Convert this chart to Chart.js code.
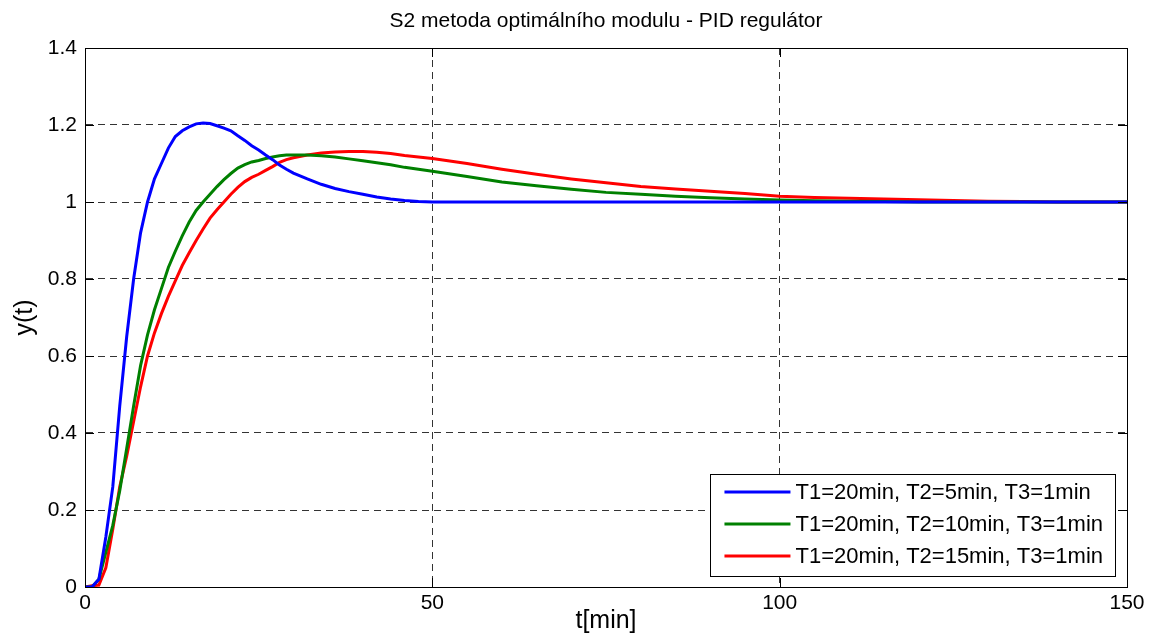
<!DOCTYPE html>
<html>
<head>
<meta charset="utf-8">
<script src="https://cdn.jsdelivr.net/npm/chart.js@4.4.1/dist/chart.umd.min.js"></script>
<style>
  html, body { margin: 0; padding: 0; background: #fff; }
  canvas { display: block; }
</style>
</head>
<body>
<canvas id="odezva" width="1151" height="636"></canvas>
<script>
// --- DATA ---
const casMin = [0, 1, 2, 3, 4, 5, 6, 7, 8, 9, 10, 11, 12, 13, 14, 15, 16, 17, 18, 19, 20,
  21, 22, 23, 24, 25, 26, 27, 28, 29, 30, 32, 34, 36, 38, 40, 42, 44, 46, 48, 50,
  55, 60, 65, 70, 75, 80, 85, 90, 95, 100, 105, 110, 115, 120, 125, 130, 135, 140, 145, 150];

const yT2_5 = [0, 0, 0.02, 0.13, 0.26, 0.47, 0.65, 0.8, 0.92, 1.0, 1.06, 1.1, 1.14, 1.17, 1.185, 1.195, 1.203, 1.205, 1.204, 1.198, 1.192,
  1.185, 1.172, 1.16, 1.146, 1.135, 1.122, 1.11, 1.096, 1.085, 1.075, 1.06, 1.046, 1.035, 1.027, 1.02, 1.013, 1.008, 1.004, 1.001, 1.0,
  1, 1, 1, 1, 1, 1, 1, 1, 1, 1, 1, 1, 1, 1, 1, 1, 1, 1, 1, 1];

const yT2_10 = [0, 0, 0.02, 0.09, 0.16, 0.25, 0.36, 0.47, 0.575, 0.655, 0.72, 0.775, 0.83, 0.872, 0.912, 0.948, 0.978, 1.0, 1.02, 1.04, 1.058,
  1.074, 1.088, 1.097, 1.104, 1.108, 1.113, 1.117, 1.12, 1.122, 1.122, 1.122, 1.12, 1.117, 1.112, 1.107, 1.102, 1.097, 1.09, 1.085, 1.08,
  1.066, 1.052, 1.042, 1.033, 1.025, 1.02, 1.015, 1.011, 1.008, 1.005, 1.003, 1.002, 1.001, 1.0, 1.0, 1.0, 1.0, 1.0, 1.0, 1.0];

const yT2_15 = [0, 0.003, 0.005, 0.05, 0.15, 0.26, 0.34, 0.43, 0.52, 0.6, 0.66, 0.71, 0.755, 0.795, 0.835, 0.868, 0.9, 0.93, 0.958, 0.98, 1.0,
  1.02, 1.038, 1.053, 1.064, 1.072, 1.082, 1.092, 1.103, 1.11, 1.115, 1.122, 1.127, 1.13, 1.131, 1.131, 1.129, 1.126, 1.121, 1.117, 1.113,
  1.1, 1.085, 1.072, 1.06, 1.05, 1.04, 1.034, 1.028, 1.022, 1.015, 1.012, 1.01, 1.008, 1.006, 1.004, 1.002, 1.001, 1.0, 1.0, 1.0];

const popisky = ['T1=20min, T2=5min, T3=1min', 'T1=20min, T2=10min, T3=1min', 'T1=20min, T2=15min, T3=1min'];
const barvy = ['#0000ff', '#008000', '#ff0000'];
const nadpis = 'S2 metoda optimálního modulu - PID regulátor';
const xTicks = [0, 50, 100, 150];
const yTicks = [0, 0.2, 0.4, 0.6, 0.8, 1, 1.2, 1.4];

const FONT = '"Liberation Sans", Arial, sans-serif';

function body(ys) {
  return casMin.map((t, i) => ({ x: t, y: ys[i] }));
}

// nadpis centrovany nad osami (jako v MATLABu)
const nadpisOs = {
  id: 'nadpisOs',
  afterDraw(chart) {
    const { ctx, chartArea: a } = chart;
    ctx.save();
    ctx.font = '21px ' + FONT;
    ctx.fillStyle = '#000';
    ctx.textAlign = 'center';
    ctx.textBaseline = 'middle';
    ctx.fillText(nadpis, (a.left + a.right) / 2, a.top - 27);
    ctx.restore();
  }
};

// ramecek kolem os + tick znacky dovnitr
const ramecek = {
  id: 'ramecek',
  afterDraw(chart) {
    const { ctx, chartArea: a, scales } = chart;
    ctx.save();
    ctx.strokeStyle = '#000';
    ctx.lineWidth = 1;
    ctx.setLineDash([]);
    ctx.strokeRect(a.left + 0.5, a.top + 0.5, a.right - a.left, a.bottom - a.top);
    const delka = 9;
    ctx.beginPath();
    xTicks.forEach(v => {
      const px = Math.round(scales.x.getPixelForValue(v)) + 0.5;
      ctx.moveTo(px, a.bottom); ctx.lineTo(px, a.bottom - delka);
      ctx.moveTo(px, a.top); ctx.lineTo(px, a.top + delka);
    });
    yTicks.forEach(v => {
      const py = Math.round(scales.y.getPixelForValue(v)) + 0.5;
      ctx.moveTo(a.left, py); ctx.lineTo(a.left + delka, py);
      ctx.moveTo(a.right, py); ctx.lineTo(a.right - delka, py);
    });
    ctx.stroke();
    ctx.restore();
  }
};

// legenda uvnitr grafu, vpravo dole
const legendaUvnitr = {
  id: 'legendaUvnitr',
  afterDraw(chart) {
    const { ctx, chartArea: a } = chart;
    const ds = chart.data.datasets;
    ctx.save();
    ctx.font = '22px ' + FONT;
    const maxW = Math.max(...ds.map(d => ctx.measureText(d.label).width));
    const radek = 32;
    const w = 14 + 66 + 5 + maxW + 12;
    const h = ds.length * radek + 6;
    const x0 = a.right - 12 - w;
    const y0 = a.bottom - 11 - h;
    ctx.fillStyle = '#fff';
    ctx.fillRect(x0, y0, w, h);
    ctx.strokeStyle = '#000';
    ctx.lineWidth = 1;
    ctx.strokeRect(Math.round(x0) + 0.5, Math.round(y0) + 0.5, Math.round(w), Math.round(h));
    ds.forEach((d, i) => {
      const cy = y0 + 18 + i * radek;
      ctx.strokeStyle = d.borderColor;
      ctx.lineWidth = 3;
      ctx.beginPath();
      ctx.moveTo(x0 + 14, cy);
      ctx.lineTo(x0 + 80, cy);
      ctx.stroke();
      ctx.fillStyle = '#000';
      ctx.textBaseline = 'middle';
      ctx.fillText(d.label, x0 + 85, cy + 1);
    });
    ctx.restore();
  }
};

new Chart(document.getElementById('odezva'), {
  type: 'line',
  data: {
    datasets: [yT2_5, yT2_10, yT2_15].map((ys, i) => ({
      label: popisky[i],
      data: body(ys),
      borderColor: barvy[i],
      borderWidth: 3,
      pointRadius: 0,
      tension: 0,
      fill: false
    }))
  },
  options: {
    responsive: false,
    animation: false,
    layout: { padding: { left: 0, right: 24, top: 48, bottom: 0 } },
    plugins: {
      legend: { display: false },
      tooltip: { enabled: false },
      title: { display: false }
    },
    scales: {
      x: {
        type: 'linear',
        min: 0, max: 150,
        afterBuildTicks: s => { s.ticks = xTicks.map(v => ({ value: v })); },
        afterFit: s => { s.height = 49; },
        ticks: { color: '#000', font: { family: FONT, size: 21 }, padding: 4, maxRotation: 0 },
        grid: { color: 'rgba(0,0,0,0.8)', lineWidth: 1, drawTicks: false },
        border: { display: true, color: '#000', width: 1, dash: [7, 5] },
        title: { display: true, text: 't[min]', color: '#000', font: { family: FONT, size: 25 }, padding: { top: -7, bottom: 0 } }
      },
      y: {
        min: 0, max: 1.4,
        afterBuildTicks: s => { s.ticks = yTicks.map(v => ({ value: v })); },
        afterFit: s => { s.width = 85; },
        ticks: {
          color: '#000', font: { family: FONT, size: 21 }, padding: 8,
          callback: v => String(Number(v.toFixed(1)))
        },
        grid: { color: 'rgba(0,0,0,0.8)', lineWidth: 1, drawTicks: false },
        border: { display: true, color: '#000', width: 1, dash: [7, 5] },
        title: { display: true, text: 'y(t)', color: '#000', font: { family: FONT, size: 25 }, padding: { top: 10, bottom: 4 } }
      }
    }
  },
  plugins: [nadpisOs, ramecek, legendaUvnitr]
});
</script>
</body>
</html>
